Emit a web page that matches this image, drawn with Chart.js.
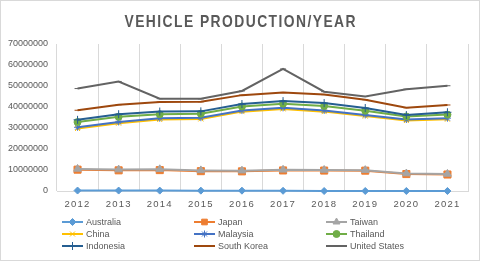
<!DOCTYPE html>
<html><head><meta charset="utf-8">
<script src="https://cdn.jsdelivr.net/npm/chart.js@4.4.0/dist/chart.umd.min.js"></script>
<style>
html,body{margin:0;padding:0;background:#fff;}
canvas{display:block;}
</style></head><body>
<canvas id="c" width="480" height="261"></canvas>
<script>
const chartTitle = 'VEHICLE PRODUCTION/YEAR';
const years = ['2012','2013','2014','2015','2016','2017','2018','2019','2020','2021'];
const seriesNames = ['Australia','Japan','Taiwan','China','Malaysia','Thailand','Indonesia','South Korea','United States'];
const australia   = [221000, 210000, 180000, 173000, 161000, 100000, 6000, 5000, 4000, 5000];
const japan       = [9940000, 9630000, 9770000, 9280000, 9200000, 9690000, 9730000, 9680000, 8070000, 7850000];
const taiwan      = [340000, 340000, 380000, 350000, 310000, 290000, 250000, 250000, 250000, 270000];
const china       = [19270000, 22120000, 23720000, 24500000, 28120000, 29020000, 27810000, 25720000, 25230000, 26080000];
const malaysia    = [570000, 600000, 600000, 610000, 510000, 500000, 560000, 570000, 490000, 480000];
const thailand    = [2480000, 2460000, 1880000, 1910000, 1940000, 1990000, 2170000, 2010000, 1430000, 1690000];
const indonesia   = [1070000, 1210000, 1300000, 1100000, 1180000, 1220000, 1340000, 1290000, 690000, 1120000];
const southKorea  = [4560000, 4520000, 4520000, 4560000, 4230000, 4110000, 4030000, 3950000, 3510000, 3460000];
const unitedStates= [10330000, 11070000, 1600000, 1400000, 2000000, 11190000, 1400000, 1500000, 8820000, 9170000];
const yMax = 70000000, yStep = 10000000;

const seriesValues = [australia, japan, taiwan, china, malaysia, thailand, indonesia, southKorea, unitedStates];
const colors = ['#5B9BD5','#ED7D31','#A5A5A5','#FFC000','#4472C4','#70AD47','#255E91','#9E480E','#636363'];
const styles = ['rectRot','rect','triangle','crossRot','star','circle','cross','line','line'];
const radii  = [3.5, 5, 4.5, 3.5, 3.5, 3.5, 4, 3, 3];

const TXT = '#595959';
const FONT = "'Liberation Sans', Arial, sans-serif";

const datasets = seriesNames.map((n,i)=>({
  label: n,
  data: seriesValues[i],
  borderColor: colors[i],
  backgroundColor: colors[i],
  pointBackgroundColor: colors[i],
  pointBorderColor: colors[i],
  pointStyle: styles[i],
  pointRadius: radii[i],
  pointBorderWidth: 1,
  borderWidth: 2,
  tension: 0,
  fill: false
}));

const deco = {
  id: 'deco',
  afterLayout(chart){
    const xs = chart.scales.x;
    if (xs && !xs._patched){
      const orig = xs.drawLabels.bind(xs);
      xs.drawLabels = function(area){
        const ctx = chart.ctx; ctx.save(); ctx.letterSpacing = '1.2px'; orig(area); ctx.restore();
      };
      xs._patched = true;
    }
  },
  beforeDraw(chart){
    const ctx = chart.ctx;
    ctx.save(); ctx.fillStyle = '#fff'; ctx.fillRect(0,0,chart.width,chart.height); ctx.restore();
  },
  beforeDatasetsDraw(chart){
    // draw later series on top (like the original), keeping stacking order intact
    const metas = chart.getSortedVisibleDatasetMetas();
    for (let i = 0; i < metas.length; i++) metas[i].controller.draw();
    return false;
  },
  afterDraw(chart){
    const ctx = chart.ctx;
    ctx.save();
    ctx.strokeStyle = '#d9d9d9'; ctx.lineWidth = 1;
    ctx.strokeRect(0.5,0.5,chart.width-1,chart.height-1);
    const sx = 0.84, target = 231;
    ctx.font = "bold 16.5px " + FONT;
    ctx.fillStyle = TXT; ctx.textBaseline = 'alphabetic'; ctx.textAlign = 'left';
    ctx.letterSpacing = '0px';
    const w = ctx.measureText(chartTitle).width * sx;
    const sp = Math.max(0,(target - w)/(chartTitle.length-1)) / sx;
    ctx.save();
    ctx.translate(240 - target/2, 26.7);
    ctx.scale(sx, 1);
    ctx.letterSpacing = sp.toFixed(2)+'px';
    ctx.fillText(chartTitle, 0, 0);
    ctx.restore();
    ctx.letterSpacing = '0px';
    const colX = [62, 194, 326], rowY = [222, 234, 246];
    ctx.font = '9px ' + FONT;
    ctx.textBaseline = 'middle';
    chart.data.datasets.forEach((ds,i)=>{
      const x = colX[i%3], y = rowY[Math.floor(i/3)];
      ctx.strokeStyle = ds.borderColor; ctx.lineWidth = 2;
      ctx.beginPath(); ctx.moveTo(x,y); ctx.lineTo(x+21,y); ctx.stroke();
      ctx.fillStyle = ds.pointBackgroundColor; ctx.strokeStyle = ds.pointBorderColor; ctx.lineWidth = 1;
      Chart.helpers.drawPoint(ctx, {pointStyle: ds.pointStyle, radius: Math.min(ds.pointRadius,4), rotation: 0, borderWidth: 1}, x+10.5, y);
      ctx.fillStyle = TXT;
      ctx.fillText(ds.label, x+24, y+0.5);
    });
    ctx.restore();
  }
};

new Chart(document.getElementById('c'), {
  type: 'line',
  data: { labels: years, datasets },
  options: {
    responsive: false,
    animation: false,
    layout: { padding: { left: 0, right: 12, top: 44, bottom: 50 } },
    plugins: { legend: { display: false }, title: { display: false }, tooltip: { enabled: false } },
    scales: {
      x: {
        offset: true,
        grid: { display: true, color: '#d9d9d9', lineWidth: 1, drawTicks: false, offset: true },
        border: { display: true, color: '#d9d9d9', width: 1 },
        ticks: { color: TXT, font: { family: FONT, size: 9.5 }, padding: 8, maxRotation: 0, autoSkip: false },
        afterFit(s){ s.height = 20; }
      },
      y: {
        stacked: true,
        min: 0, max: yMax,
        grid: { display: false, drawTicks: false },
        border: { display: false },
        ticks: { stepSize: yStep, color: TXT, font: { family: FONT, size: 9 }, padding: 9,
                 callback: v => String(v) },
        afterFit(s){ s.width = 57; }
      }
    }
  },
  plugins: [deco]
});
</script>
</body></html>
